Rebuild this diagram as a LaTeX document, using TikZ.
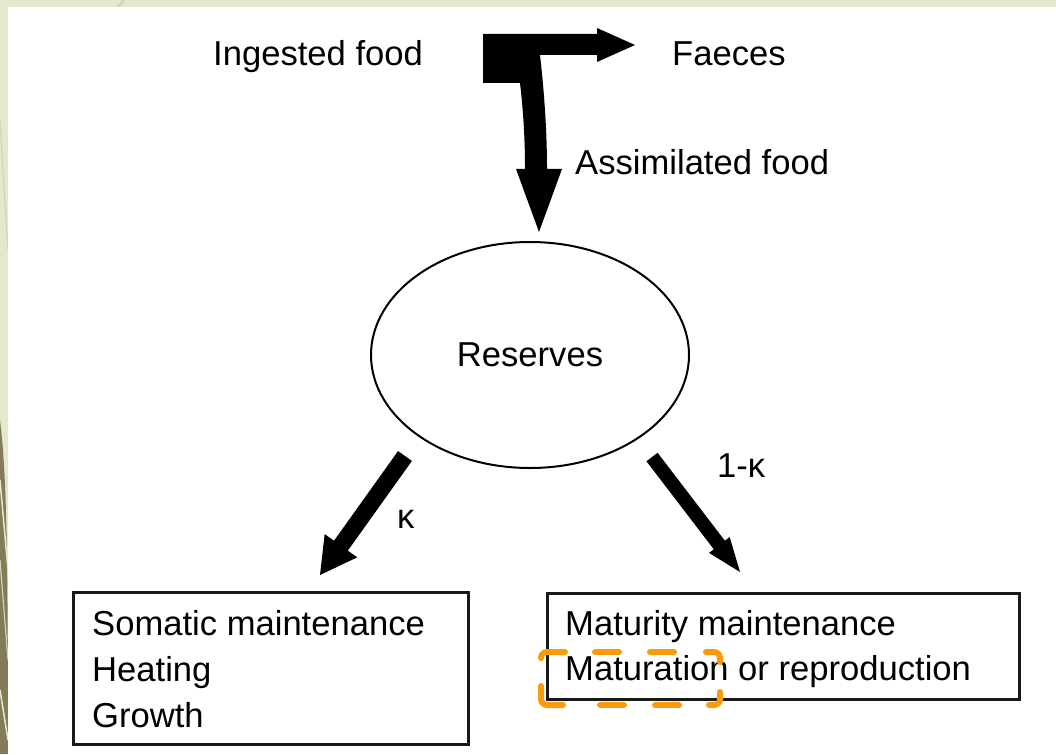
\documentclass[tikz,border=0pt]{standalone}
\usepackage{fontspec}
\setmainfont{Liberation Sans}
\usetikzlibrary{calc,shapes.geometric}
\definecolor{bggreen}{HTML}{E3E9CD}
\definecolor{bgline}{HTML}{CDD5B4}
\definecolor{olivedk}{HTML}{857B59}
\definecolor{hlorange}{HTML}{F99B0C}
\newcommand{\bkarrow}[5]{% start, tip, shaft half-width, head half-width, head length
  \coordinate (bkH) at ($(#2)!#5!(#1)$);
  \fill ($(#1)!#3!90:(#2)$) -- ($(bkH)!#3!-90:(#1)$) -- ($(bkH)!#4!-90:(#1)$) -- (#2)
        -- ($(bkH)!#4!90:(#1)$) -- ($(bkH)!#3!90:(#1)$) -- ($(#1)!#3!-90:(#2)$) -- cycle;}
\begin{document}
\begin{tikzpicture}[x=1pt,y=-1pt,
  lbl/.style={inner sep=0pt, anchor=base west, font=\fontsize{34.6}{46}\selectfont},
  box/.style={draw=black!90, line width=2.5pt, inner sep=0pt, anchor=north west},
  reservestyle/.style={ellipse, draw, line width=2pt, inner sep=0pt,
     minimum width=318pt, minimum height=226pt, font=\fontsize{34.6}{46}\selectfont},
  hldash/.style={draw=hlorange, line width=6pt, line cap=round, line join=round, rounded corners=6pt}]
\useasboundingbox (0,0) rectangle (1056,754);
% slide background
\fill[bggreen] (0,0) rectangle (1056,754);
\begin{scope}
  \clip (0,0) rectangle (8,754);
  \fill[olivedk] (0,420) .. controls (6,470) and (8,530) .. (8,754) -- (0,754) -- cycle;
  \draw[bggreen, line width=1.5pt] (0,480) -- (8,570);
  \draw[bggreen!80!olivedk, line width=1.2pt] (0,560) -- (8,660);
  \draw[bggreen, line width=1.5pt] (0,690) -- (8,740);
  \draw[bgline, line width=1pt] (0,120) -- (8,250);
\end{scope}
\draw[bgline, line width=2pt] (118,7) -- (124,0);
\fill[white] (8,7) rectangle (1056,754);

% texts at top
\node[lbl] (ingested) at (213,66) {Ingested food};
\node[lbl] (faeces) at (672,66) {Faeces};
\node[lbl] (assim) at (575,175) {Assimilated food};

% T-shaped block arrow
\fill (483,34) -- (597,34) -- (597,28) -- (635,45) -- (597,62) -- (597,55) -- (540,55)
  .. controls (544,90) and (547,130) .. (547,169) -- (562,169) -- (539,232) -- (516,169)
  -- (525,169) .. controls (525,130) and (522,100) .. (520,83) -- (483,83) -- cycle;

% reserves
\node[reservestyle] (reserves) at (530,355) {Reserves};

% outgoing arrows
\coordinate (kS) at (405,456);
\coordinate (kT) at (320,575);
\bkarrow{kS}{kT}{8.5pt}{20pt}{36pt}
\node[lbl] (kappa) at (397,528) {κ};

\coordinate (mS) at (652,457);
\coordinate (mT) at (740,572);
\bkarrow{mS}{mT}{7pt}{13pt}{34pt}
\node[lbl] (onekappa) at (717,477) {1-κ};

% boxes
\node[box, minimum width=395pt, minimum height=152pt] (somatic) at (72,591) {};
\node[lbl] (s1) at (92,635) {Somatic maintenance};
\node[lbl] (s2) at (92,681) {Heating};
\node[lbl] (s3) at (92,727) {Growth};

\node[box, minimum width=472pt, minimum height=106pt] (maturity) at (546,592) {};
\node[lbl] (m1) at (565,635) {Maturity maintenance};
\node[lbl] (m2) at (565,680) {Maturation or reproduction};

% highlight (dashed rounded rectangle)
\draw[hldash] (541,657) -- (541,652) -- (565,652);
\draw[hldash] (595,652) -- (619,652);
\draw[hldash] (650,652) -- (674,652);
\draw[hldash] (706,652) -- (720,652) -- (720,662);
\draw[hldash] (720,692) -- (720,705) -- (709,705);
\draw[hldash] (679,705) -- (655,705);
\draw[hldash] (624,705) -- (600,705);
\draw[hldash] (563,705) -- (541,705) -- (541,686);
\end{tikzpicture}
\end{document}
